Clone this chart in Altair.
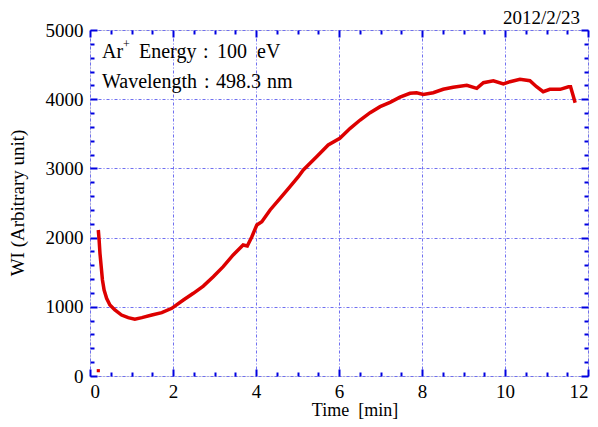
import altair as alt
import pandas as pd

# ---- data ----
time_min = [0.20, 0.22, 0.24, 0.27, 0.30, 0.34, 0.40, 0.48, 0.60, 0.76, 0.92, 1.08,
            1.25, 1.49, 1.73, 1.97, 2.25, 2.49, 2.73, 2.97, 3.21, 3.45, 3.69, 3.79,
            3.90, 4.02, 4.14, 4.34, 4.58, 4.82, 5.02, 5.14, 5.46, 5.74, 6.02, 6.27,
            6.51, 6.75, 6.99, 7.23, 7.47, 7.71, 7.87, 8.03, 8.27, 8.51, 8.75, 9.08,
            9.32, 9.48, 9.72, 9.96, 10.12, 10.36, 10.60, 10.76, 10.92, 11.08, 11.33,
            11.53, 11.58, 11.65, 11.69]
wi_value = [2110, 1965, 1773, 1580, 1387, 1243, 1123, 1026, 954, 881, 843, 822,
            843, 881, 915, 978, 1098, 1195, 1300, 1435, 1580, 1749, 1893, 1879,
            2013, 2182, 2230, 2399, 2568, 2736, 2880, 2977, 3169, 3338, 3435, 3579,
            3699, 3805, 3892, 3955, 4030, 4085, 4094, 4068, 4094, 4143, 4172, 4201,
            4157, 4238, 4267, 4220, 4253, 4287, 4267, 4180, 4108, 4143, 4143,
            4180, 4180, 4036, 3950]
outlier_time = [0.20]
outlier_value = [77]

x_major = [0, 2, 4, 6, 8, 10, 12]
x_minor = [v / 2 for v in range(0, 25) if v % 4 != 0]
y_major = [0, 1000, 2000, 3000, 4000, 5000]
y_minor = [v for v in range(0, 5001, 200) if v % 1000 != 0]

df = pd.DataFrame({"t": time_min, "v": wi_value})
df_out = pd.DataFrame({"t": outlier_time, "v": outlier_value})
one = pd.DataFrame({"a": [0]})

FONT = "Liberation Serif"
BLUE = "#0000e0"
GRID = "#6f6ff0"
RED = "#dd0000"

xs = alt.Scale(domain=[0, 12], nice=False)
ys = alt.Scale(domain=[0, 5000], nice=False)


def tick_axis(orient, values, size):
    return alt.Axis(orient=orient, values=values, labels=False, domain=False, grid=False,
                    ticks=True, tickSize=size, tickWidth=2, tickColor=BLUE,
                    offset=-size, title=None)


main = alt.Chart(df).mark_line(color=RED, strokeWidth=3.5).encode(
    x=alt.X("t:Q", scale=xs, axis=alt.Axis(
        orient="bottom", values=x_major, format="d", grid=True, gridColor=GRID,
        gridDash=[3, 2, 1, 2], gridWidth=1, ticks=False, domain=False,
        labelFont=FONT, labelFontSize=19, labelColor="black", labelPadding=6, title=None)),
    y=alt.Y("v:Q", scale=ys, axis=alt.Axis(
        orient="left", values=y_major, format="d", grid=True, gridColor=GRID,
        gridDash=[3, 2, 1, 2], gridWidth=1, ticks=False, domain=False,
        labelFont=FONT, labelFontSize=19, labelColor="black", labelPadding=7, title=None)),
)

def tick_layer(xo, yo, xv, yv, size):
    return alt.Chart(df).mark_point(opacity=0).encode(
        x=alt.X("t:Q", scale=xs, axis=tick_axis(xo, xv, size)),
        y=alt.Y("v:Q", scale=ys, axis=tick_axis(yo, yv, size)),
    )

t1 = tick_layer("bottom", "left", x_major, y_major, 7)
t2 = tick_layer("bottom", "left", x_minor, y_minor, 4)
t3 = tick_layer("top", "right", x_major, y_major, 7)
t4 = tick_layer("top", "right", x_minor, y_minor, 4)

outlier = alt.Chart(df_out).mark_square(color=RED, size=10, opacity=1).encode(
    x=alt.X("t:Q", scale=xs, axis=None),
    y=alt.Y("v:Q", scale=ys, axis=None),
)


def label(text, x, y, size=20, align="left", angle=0, baseline="alphabetic"):
    return alt.Chart(one).mark_text(text=text, font=FONT, fontSize=size, align=align,
                                    baseline=baseline, angle=angle, color="black").encode(
        x=alt.value(x), y=alt.value(y))

texts = [
    label("Ar", 12, 28),
    label("+", 33, 18, size=12),
    label("Energy", 49, 28),
    label(":", 113, 28),
    label("100", 127, 28),
    label("eV", 167, 28),
    label("Wavelength", 12, 58),
    label(":", 114, 58),
    label("498.3", 126, 58),
    label("nm", 177, 58),
    label("2012/2/23", 490, -6, size=19, align="right"),
    label("Time\u00a0\u00a0[min]", 265, 385.5, size=18, align="center"),
    label("WI (Arbitrary unit)", -72, 173, size=19, align="center", angle=270,
          baseline="middle"),
]

chart = alt.layer(main, outlier, t1, t2, t3, t4, *texts).resolve_axis(
    x="independent", y="independent"
).properties(
    width=498, height=346,
    autosize=alt.AutoSizeParams(type="none"),
    padding={"left": 82, "top": 22, "right": 2, "bottom": 43},
).configure_view(stroke=BLUE, strokeWidth=2).configure(background="white")

chart.save("out.html", embed_options={"renderer": "svg", "actions": False})
